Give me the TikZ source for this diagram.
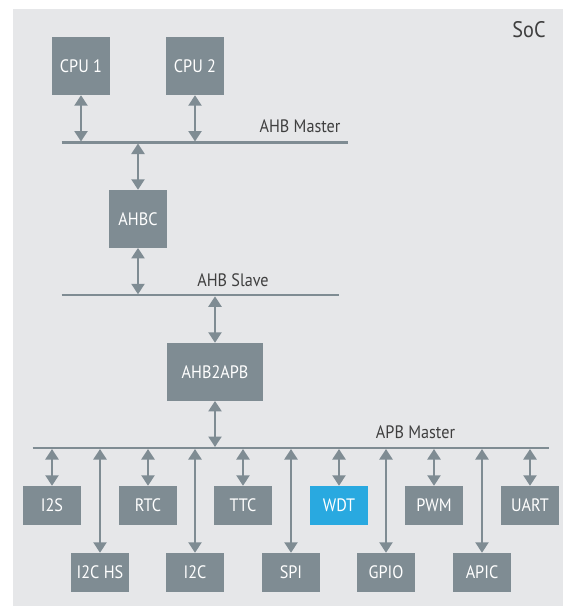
\documentclass[tikz,border=0pt]{standalone}
\usepackage{fontspec}
\setmainfont{PT Sans}[FakeStretch=0.9]
\usetikzlibrary{arrows.meta}

\definecolor{socbg}{HTML}{E6E7E9}
\definecolor{blockgray}{HTML}{7F8C93}
\definecolor{wdtblue}{HTML}{29A9E0}
\definecolor{labeltext}{HTML}{3F3F3F}

\tikzset{
  blk/.style={fill=blockgray, draw=none, inner sep=0pt, text=white,
              font=\fontsize{18}{21}\selectfont, minimum width=58pt},
  toprow/.style={blk, minimum height=39pt},
  botrow/.style={blk, minimum height=38.7pt},
  bus/.style={draw=blockgray, line width=2.3pt},
  link/.style={draw=blockgray, line width=2.3pt,
               {Triangle[length=10.5pt,width=13pt]}-{Triangle[length=10.5pt,width=13pt]},
               shorten >=1pt},
  lbl/.style={text=labeltext, inner sep=0pt, anchor=base,
              font=\fontsize{18}{21}\selectfont}
}

\begin{document}
\begin{tikzpicture}[x=1pt, y=-1pt]
  \useasboundingbox (0,0) rectangle (563,608);
  \fill[white] (0,0) rectangle (563,608);
  \fill[socbg] (12.7,9) rectangle (563,606);

  \node[text=labeltext, inner sep=0pt, anchor=base, font=\fontsize{22.5}{26}\selectfont] (soc) at (529,37.5) {SoC};

  % processors
  \node[blk, minimum height=58.3pt] (cpu1) at (81,65.85) {CPU 1};
  \node[blk, minimum height=58.3pt] (cpu2) at (195,65.85) {CPU 2};

  % AHB master bus
  \coordinate (ahbmL) at (61.7,142.5);
  \coordinate (ahbmR) at (348,142.5);
  \draw[bus] (ahbmL) -- (ahbmR);
  \node[lbl] (ahbmlab) at (300,132.7) {AHB Master};

  \node[blk, minimum height=57.7pt] (ahbc) at (138,218.85) {AHBC};

  % AHB slave bus
  \coordinate (ahbsL) at (61.7,295.3);
  \coordinate (ahbsR) at (338.7,295.3);
  \draw[bus] (ahbsL) -- (ahbsR);
  \node[lbl] (ahbslab) at (233,286) {AHB Slave};

  \node[blk, minimum width=96pt, minimum height=57.7pt] (bridge) at (215,371.85) {AHB2APB};

  % APB master bus
  \coordinate (apbL) at (32.7,448);
  \coordinate (apbR) at (549,448);
  \draw[bus] (apbL) -- (apbR);
  \node[lbl] (apblab) at (415.5,438.3) {APB Master};

  % peripherals, upper row
  \node[toprow] (i2s)  at (52,505.5)  {I2S};
  \node[toprow] (rtc)  at (148,505.5) {RTC};
  \node[toprow] (ttc)  at (243,505.5) {TTC};
  \node[toprow, fill=wdtblue] (wdt) at (339,505.5) {WDT};
  \node[toprow] (pwm)  at (434,505.5) {PWM};
  \node[toprow] (uart) at (530,505.5) {UART};

  % peripherals, lower row
  \node[botrow] (i2chs) at (100,572.35) {I2C HS};
  \node[botrow] (i2c)   at (195,572.35) {I2C};
  \node[botrow] (spi)   at (291,572.35) {SPI};
  \node[botrow] (gpio)  at (386,572.35) {GPIO};
  \node[botrow] (apic)  at (482,572.35) {APIC};

  % bus connections
  \draw[link] (cpu1.south) -- (cpu1.south |- ahbmL);
  \draw[link] (cpu2.south) -- (cpu2.south |- ahbmL);
  \draw[link] (ahbc.north) -- (ahbc.north |- ahbmL);
  \draw[link] (ahbc.south) -- (ahbc.south |- ahbsL);
  \draw[link] (bridge.north) -- (bridge.north |- ahbsL);
  \draw[link] (bridge.south) -- (bridge.south |- apbL);

  \foreach \p in {i2s,rtc,ttc,wdt,pwm,uart,i2chs,i2c,spi,gpio,apic}
    \draw[link] (\p.north) -- (\p.north |- apbL);
\end{tikzpicture}
\end{document}
